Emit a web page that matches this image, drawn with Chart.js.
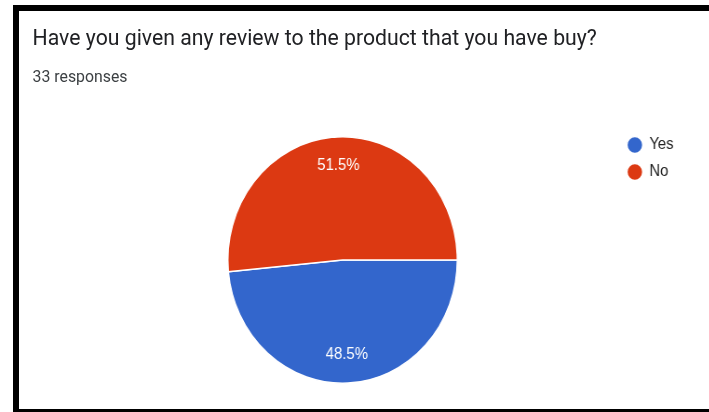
<!DOCTYPE html>
<html>
<head>
<meta charset="utf-8">
<title>Review responses</title>
<script src="https://cdn.jsdelivr.net/npm/chart.js@4.4.1/dist/chart.umd.min.js"></script>
<style>
  html, body { margin: 0; padding: 0; background: #fff; }
  body { width: 709px; height: 412px; position: relative; overflow: hidden; }
  /* whole card is drawn slightly narrow, like the original capture */
  #stage {
    position: absolute; left: 0; top: 0; width: 762px; height: 412px;
    transform: scaleX(0.931); transform-origin: 0 0;
  }
  #title {
    position: absolute; left: 35px; top: 27px; white-space: nowrap;
    font: 22.8px/22.8px Roboto, "Liberation Sans", sans-serif; color: #202124;
  }
  #sub {
    position: absolute; left: 35px; top: 68px; white-space: nowrap;
    font: 17px/17px Roboto, "Liberation Sans", sans-serif; color: #3c4043;
  }
  #pie { position: absolute; left: 0; top: 0; }
  .edge { position: absolute; background: #000; }
</style>
</head>
<body>
<div id="stage">
  <div id="title">Have you given any review to the product that you have buy?</div>
  <div id="sub">33 responses</div>
  <canvas id="pie" width="762" height="412"></canvas>
</div>
<div class="edge" style="left:13px;top:5px;width:696px;height:6px"></div>
<div class="edge" style="left:13px;top:5px;width:6px;height:407px"></div>
<div class="edge" style="left:13px;top:409px;width:696px;height:3px"></div>

<script>
const answers = ['Yes', 'No'];
const responses = [16, 17];

// percentage text inside each slice
const sliceLabels = {
  id: 'sliceLabels',
  afterDatasetsDraw(chart) {
    const meta = chart.getDatasetMeta(0);
    const total = responses.reduce((a, b) => a + b, 0);
    const ctx = chart.ctx;
    ctx.save();
    ctx.font = '16px "Liberation Sans", Arial, sans-serif';
    ctx.fillStyle = '#ffffff';
    ctx.textAlign = 'center';
    ctx.textBaseline = 'middle';
    meta.data.forEach((arc, i) => {
      const p = arc.getProps(['x', 'y', 'startAngle', 'endAngle', 'outerRadius'], true);
      const mid = (p.startAngle + p.endAngle) / 2;
      const r = p.outerRadius * 0.77;
      const text = (responses[i] / total * 100).toFixed(1) + '%';
      ctx.fillText(text, p.x + Math.cos(mid) * r, p.y + Math.sin(mid) * r);
    });
    ctx.restore();
  }
};

// lift the legend so it sits near the top of the pie
const legendNudge = {
  id: 'legendNudge',
  afterLayout(chart) {
    if (chart.legend) {
      chart.legend.top -= 10;
      chart.legend.bottom -= 10;
    }
  }
};

new Chart(document.getElementById('pie'), {
  type: 'pie',
  data: {
    labels: answers,
    datasets: [{
      data: responses,
      backgroundColor: ['#3366cc', '#dc3912'],
      borderColor: '#ffffff',
      borderWidth: 1.5,
    }],
  },
  options: {
    responsive: false,
    animation: false,
    rotation: 90,
    layout: { padding: { top: 136, bottom: 28, left: 72.5, right: 28.5 } },
    plugins: {
      tooltip: { enabled: false },
      legend: {
        position: 'right',
        align: 'start',
        labels: {
          usePointStyle: true,
          pointStyle: 'circle',
          boxWidth: 15,
          boxHeight: 12,
          padding: 11,
          color: '#222222',
          font: { family: '"Liberation Sans", Arial, sans-serif', size: 16 },
        },
      },
    },
  },
  plugins: [sliceLabels, legendNudge],
});
</script>
</body>
</html>
